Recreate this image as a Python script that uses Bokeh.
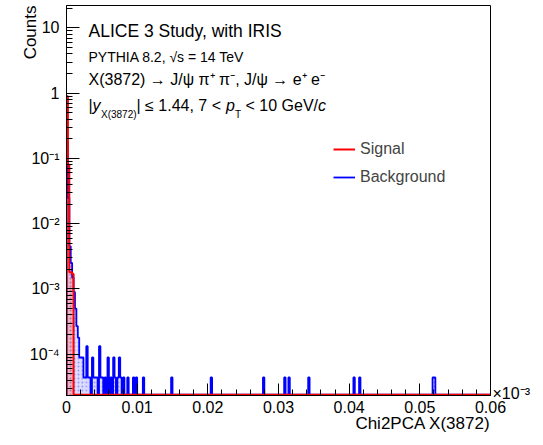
import numpy as np
from bokeh.plotting import figure
from bokeh.models import FixedTicker, Label, Legend, LegendItem
from bokeh.embed import file_html
from bokeh.resources import INLINE

# ---------------- data (x in units of 10^-3) ----------------
x_ticks = [0, 0.01, 0.02, 0.03, 0.04, 0.05, 0.06]
x_tick_labels = ["0", "0.01", "0.02", "0.03", "0.04", "0.05", "0.06"]
y_ticks = [1e-4, 1e-3, 1e-2, 1e-1, 1, 10]
y_tick_labels = ["10\u207b\u2074", "10\u207b\u00b3", "10\u207b\u00b2", "10\u207b\u00b9", "1", "10"]

bin_width = 0.0002
n_bins = 300

sig_bins = [0, 1, 2, 3, 4]
sig_counts = [0.9, 0.08, 0.0018, 0.0018, 0.0017]

bkg_bins = [0, 1, 2, 3, 4, 5, 6, 7, 8, 9, 10, 11, 12, 13, 14, 15, 16,
            18, 19, 20, 21, 23, 24, 25, 27, 29, 31, 33, 34, 36, 37, 38,
            40, 43, 47, 49, 54, 74, 102, 139, 154, 157, 171, 203, 207, 259, 260]
bkg_counts = [0.18, 0.025, 0.0045, 0.0025, 0.0015, 0.0009, 0.0005, 0.00027, 0.00018,
              8.9e-5, 8.9e-5, 8.9e-5, 4.4e-5, 4.4e-5, 1.33e-4, 4.4e-5, 4.4e-5,
              8.9e-5, 4.4e-5, 4.4e-5, 4.4e-5, 1.33e-4, 4.4e-5, 4.4e-5, 4.4e-5,
              8.9e-5, 4.4e-5, 8.9e-5, 4.4e-5, 4.4e-5, 8.9e-5, 4.4e-5,
              4.4e-5, 4.4e-5, 4.4e-5, 4.4e-5, 4.4e-5, 4.4e-5, 4.4e-5, 4.4e-5,
              4.4e-5, 4.4e-5, 4.4e-5, 4.4e-5, 4.4e-5, 4.4e-5, 4.4e-5]

y_lo, y_hi = 2.33e-5, 22.1
FONT = "Liberation Sans"

# ---------------- helpers ----------------
edges = np.arange(n_bins + 1) * bin_width


def hist(bins, counts):
    h = np.zeros(n_bins)
    h[np.array(bins)] = counts
    return h


def step_xy(h, floor):
    v = np.where(h > 0, h, floor)
    xs = np.repeat(edges, 2)[1:-1]
    ys = np.repeat(v, 2)
    xs = np.concatenate([[edges[0]], xs, [edges[-1]]])
    ys = np.concatenate([[floor], ys, [floor]])
    return xs, ys


h_sig = hist(sig_bins, sig_counts)
h_bkg = hist(bkg_bins, bkg_counts)
line_floor = y_lo * 1.03

W, H = 535, 437
p = figure(width=W, height=H, x_range=(0, 0.06), y_range=(y_lo, y_hi),
           y_axis_type="log", output_backend="svg", toolbar_location=None,
           min_border_left=66, min_border_right=45, min_border_top=5,
           min_border_bottom=42)
p.grid.visible = False
p.outline_line_color = "black"
p.outline_line_width = 1
p.background_fill_color = "white"
p.border_fill_color = "white"

# fills
bl = np.array(bkg_bins) * bin_width
p.quad(left=bl, right=bl + bin_width, bottom=y_lo * 0.5, top=bkg_counts,
       fill_color="#c8c8ff", fill_alpha=0.7, line_color=None,
       hatch_pattern="dot", hatch_color="#6a6aff", hatch_alpha=0.6, hatch_scale=4)
sl = np.array(sig_bins) * bin_width
p.quad(left=sl, right=sl + bin_width, bottom=y_lo * 0.5, top=sig_counts,
       fill_color="#ff8080", fill_alpha=0.45, line_color=None,
       hatch_pattern="dot", hatch_color="#cc4444", hatch_alpha=0.5, hatch_scale=4)

# outlines
bx, by = step_xy(h_bkg, line_floor)
r_bkg = p.line(bx, by, line_color="#0000ff", line_width=1.8)
sx, sy = step_xy(h_sig, line_floor)
r_sig = p.line(sx, sy, line_color="#ff0000", line_width=2)

# axes
p.xaxis.ticker = FixedTicker(ticks=x_ticks, minor_ticks=[i * 0.002 for i in range(31)])
p.xaxis.major_label_overrides = dict(zip(x_ticks, x_tick_labels))
p.yaxis.ticker = FixedTicker(ticks=y_ticks,
                             minor_ticks=[k * 10.0 ** n for n in range(-5, 2) for k in range(2, 10)])
p.yaxis.major_label_overrides = dict(zip(y_ticks, y_tick_labels))
for ax in (p.xaxis[0], p.yaxis[0]):
    ax.major_label_text_font = FONT
    ax.major_label_text_font_size = "16px"
    ax.major_label_text_color = "black"
    ax.axis_line_color = "black"
    ax.major_tick_line_color = "black"
    ax.minor_tick_line_color = "black"
    ax.major_tick_out = 0
    ax.minor_tick_out = 0
p.xaxis.major_tick_in = 12
p.xaxis.minor_tick_in = 6
p.yaxis.major_tick_in = 13
p.yaxis.minor_tick_in = 6
p.xaxis.major_label_standoff = 5
p.yaxis.major_label_standoff = 7

# legend
leg = Legend(items=[LegendItem(label="Signal", renderers=[r_sig]),
                    LegendItem(label="Background", renderers=[r_bkg])],
             location=(267, 209), border_line_alpha=0, background_fill_alpha=0,
             label_text_font=FONT, label_text_font_size="16px",
             glyph_width=22, glyph_height=16, label_height=16, spacing=10,
             padding=0, margin=0, label_standoff=5)
p.add_layout(leg)

# text labels: page coords -> panel-relative screen units
FL, FR, FT, FB = 66, 490, 5, 395
ORIGIN = {"center": (FL, FB), "left": (0, FB), "below": (FL, H), "right": (FR, FB)}
K = 0.45  # baseline correction (fraction of font size)


def lab(text, px, py, size, place="center", rotated=False, **kw):
    ox, oy = ORIGIN[place]
    if rotated:
        px = px - K * size
    else:
        py = py - K * size
    p.add_layout(Label(x=px - ox, y=oy - py, x_units="screen", y_units="screen",
                       text=text, text_font=FONT, text_font_size=f"{size}px",
                       text_color="black", text_baseline="alphabetic", **kw), place)


lab("ALICE 3 Study, with IRIS", 88, 38, 17.5)
lab("PYTHIA 8.2, \u221as = 14 TeV", 88, 63, 14)
lab("X(3872) \u2192 J/\u03c8 \u03c0\u207a \u03c0\u207b, J/\u03c8 \u2192 e\u207a e\u207b", 88, 86, 16)
lab("|", 88, 112, 16)
lab("y", 92, 112, 16, text_font_style="italic")
lab("X(3872)", 100.5, 118, 10)
lab("| \u2264 1.44, 7 <", 136, 112, 16)
lab("p", 225.5, 112, 16, text_font_style="italic")
lab("T", 234.5, 118, 10)
lab("< 10 GeV/", 245, 112, 16)
lab("c", 317.5, 112, 16, text_font_style="italic")

lab("\u00d710\u207b\u00b3", 492, 400, 16, place="right")
lab("Chi2PCA X(3872)", 490, 434, 17, place="below", text_align="right")
lab("Counts", 31, 5, 17, place="left", rotated=True, text_align="right", angle=np.pi / 2)

open("out.html", "w").write(file_html(p, INLINE))
